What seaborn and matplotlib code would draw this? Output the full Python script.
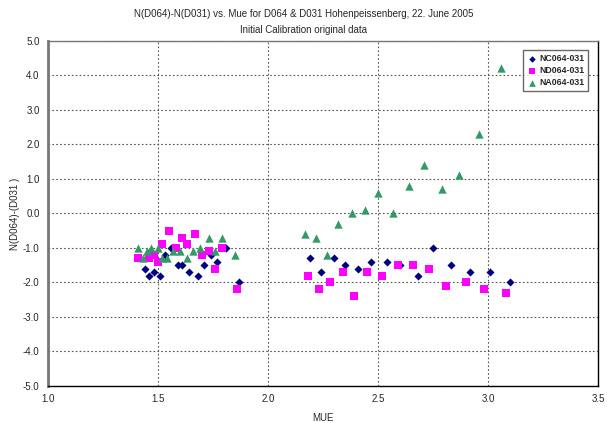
import pandas as pd
import matplotlib
matplotlib.use("Agg")
import matplotlib.pyplot as plt
import seaborn as sns

# NC064-031 (navy diamonds)
nc_mue = [1.44, 1.46, 1.48, 1.51, 1.53, 1.56, 1.59, 1.61, 1.64, 1.68, 1.71, 1.74, 1.77, 1.81, 1.87,
          2.19, 2.24, 2.30, 2.35, 2.41, 2.47, 2.54, 2.60, 2.68, 2.75, 2.83, 2.92, 3.01, 3.10]
nc_val = [-1.6, -1.8, -1.7, -1.8, -1.2, -1.0, -1.5, -1.5, -1.7, -1.8, -1.5, -1.2, -1.4, -1.0, -2.0,
          -1.3, -1.7, -1.3, -1.5, -1.6, -1.4, -1.4, -1.5, -1.8, -1.0, -1.5, -1.7, -1.7, -2.0]

# ND064-031 (magenta squares)
nd_mue = [1.41, 1.46, 1.48, 1.50, 1.52, 1.55, 1.58, 1.61, 1.63, 1.67, 1.70, 1.73, 1.76, 1.79, 1.86,
          2.18, 2.23, 2.28, 2.34, 2.39, 2.45, 2.52, 2.59, 2.66, 2.73, 2.81, 2.90, 2.98, 3.08]
nd_val = [-1.3, -1.3, -1.2, -1.4, -0.9, -0.5, -1.0, -0.7, -0.9, -0.6, -1.2, -1.1, -1.6, -1.0, -2.2,
          -1.8, -2.2, -2.0, -1.7, -2.4, -1.7, -1.8, -1.5, -1.5, -1.6, -2.1, -2.0, -2.2, -2.3]

# NA064-031 (green triangles)
na_mue = [1.41, 1.43, 1.45, 1.47, 1.50, 1.52, 1.54, 1.57, 1.60, 1.63, 1.66, 1.69, 1.73, 1.76, 1.79, 1.85,
          2.17, 2.22, 2.27, 2.32, 2.38, 2.44, 2.50, 2.57, 2.64, 2.71, 2.79, 2.87, 2.96, 3.06]
na_val = [-1.0, -1.3, -1.1, -1.0, -1.0, -1.3, -1.3, -1.1, -1.1, -1.3, -1.1, -1.0, -0.7, -1.1, -0.7, -1.2,
          -0.6, -0.7, -1.2, -0.3, 0.0, 0.1, 0.6, 0.0, 0.8, 1.4, 0.7, 1.1, 2.3, 4.2]

series_names = ["NC064-031", "ND064-031", "NA064-031"]
x_ticks = [1.0, 1.5, 2.0, 2.5, 3.0, 3.5]
y_ticks = [-5.0, -4.0, -3.0, -2.0, -1.0, 0.0, 1.0, 2.0, 3.0, 4.0, 5.0]

df = pd.concat([
    pd.DataFrame({"MUE": nc_mue, "val": nc_val, "series": series_names[0]}),
    pd.DataFrame({"MUE": nd_mue, "val": nd_val, "series": series_names[1]}),
    pd.DataFrame({"MUE": na_mue, "val": na_val, "series": series_names[2]}),
])

sns.set_style("white")
plt.rcParams["font.family"] = ["Liberation Sans", "DejaVu Sans"]

fig = plt.figure(figsize=(6.07, 4.23), dpi=100)
ax = fig.add_axes([0.079, 0.0875, 0.906, 0.816])

palette = {"NC064-031": "#000080", "ND064-031": "#FF00FF", "NA064-031": "#339966"}
markers = {"NC064-031": "D", "ND064-031": "s", "NA064-031": "^"}
sizes = {"NC064-031": 17, "ND064-031": 26, "NA064-031": 36}

for name in series_names:
    sub = df[df["series"] == name]
    sns.scatterplot(data=sub, x="MUE", y="val", color=palette[name], marker=markers[name],
                    s=sizes[name], linewidth=0, ax=ax, label=name, zorder=3)

ax.set_xlim(1.0, 3.5)
ax.set_ylim(-5.0, 5.0)
ax.set_xticks(x_ticks)
ax.set_yticks(y_ticks)
ax.set_xticklabels([f"{t:.1f}" for t in x_ticks], fontsize=7)
ax.set_yticklabels([f"{t:.1f}" for t in y_ticks], fontsize=7)
ax.tick_params(direction="out", length=3, width=0.8, color="black", pad=3)
ax.grid(True, linestyle=(0, (1.5, 2)), color="#555555", linewidth=0.8)
ax.set_axisbelow(True)

for side in ["top", "right", "bottom"]:
    ax.spines[side].set_color("black")
    ax.spines[side].set_linewidth(1.0)
ax.spines["left"].set_color("#777777")
ax.spines["left"].set_linewidth(2.0)
ax.spines["top"].set_color("#777777")

ax.set_xlabel("MUE", fontsize=7, labelpad=6)
ax.set_ylabel("N(D064)-(D031 )", fontsize=7, labelpad=2)

fig.text(0.5, 0.968, "N(D064)-N(D031) vs. Mue for D064 & D031 Hohenpeissenberg, 22. June 2005",
         ha="center", va="center", fontsize=7)
fig.text(0.5, 0.930, "Initial Calibration original data", ha="center", va="center", fontsize=7)

leg = ax.legend(loc="upper right", bbox_to_anchor=(0.99, 0.985), fontsize=6.3,
                frameon=True, fancybox=False, borderpad=0.45, handletextpad=0.15,
                handlelength=1.2, labelspacing=0.35, markerscale=0.8, borderaxespad=0.5)
leg.get_frame().set_edgecolor("#444444")
leg.get_frame().set_linewidth(1.0)
for t in leg.get_texts():
    t.set_fontweight("bold")

fig.savefig("out.png", dpi=100)
